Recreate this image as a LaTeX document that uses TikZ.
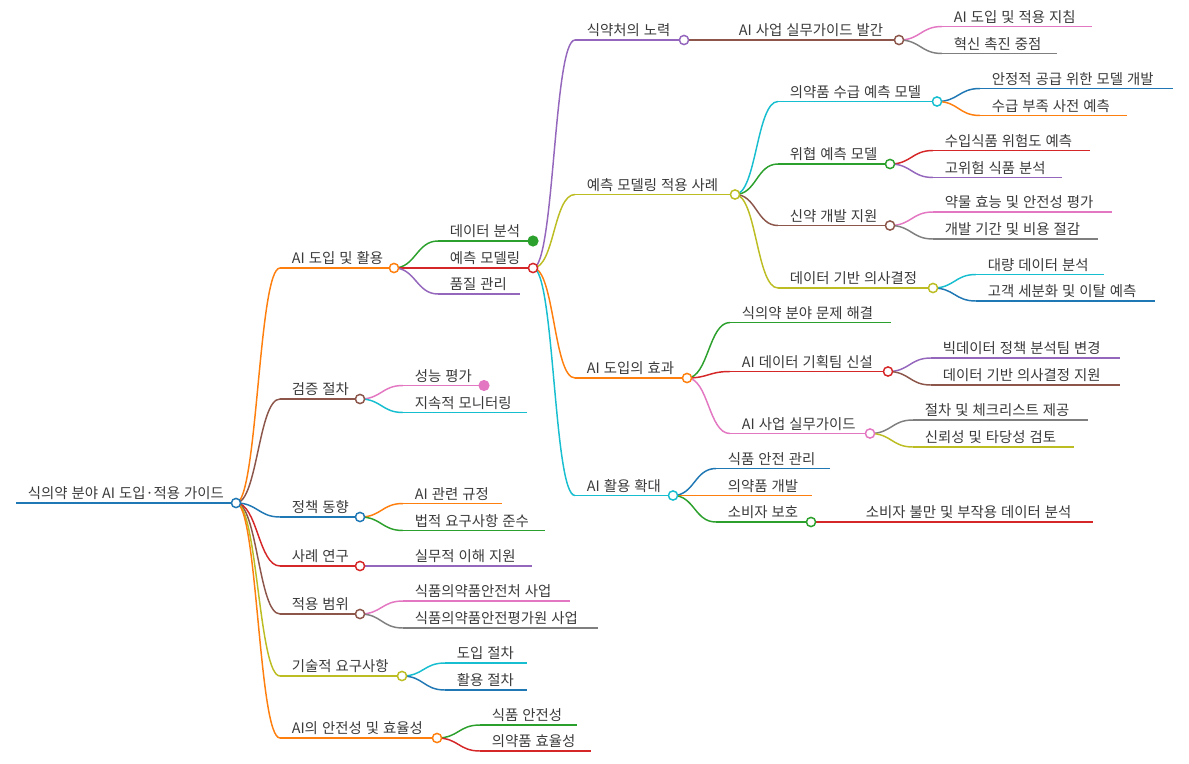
\documentclass[tikz,border=0pt]{standalone}
\usepackage{fontspec}
\setmainfont{Noto Sans CJK KR}[WordSpace=1.25]
\usetikzlibrary{calc}
\definecolor{cblue}{HTML}{1F77B4}
\definecolor{corange}{HTML}{FF7F0E}
\definecolor{cgreen}{HTML}{2CA02C}
\definecolor{cred}{HTML}{D62728}
\definecolor{cpurple}{HTML}{9467BD}
\definecolor{cbrown}{HTML}{8C564B}
\definecolor{cpink}{HTML}{E377C2}
\definecolor{cgray}{HTML}{7F7F7F}
\definecolor{colive}{HTML}{BCBD22}
\definecolor{ccyan}{HTML}{17BECF}
\definecolor{ctext}{RGB}{58,58,58}
\tikzset{
  mmline/.style={line width=1.1pt},
  mmtext/.style={anchor=base west, inner sep=0pt, text=ctext, font=\fontsize{10.8pt}{12pt}\selectfont},
  mmdot/.style={circle, inner sep=0pt, minimum size=6.9pt, line width=1.1pt, fill=white},
  mmfull/.style={circle, inner sep=0pt, minimum size=8.4pt, draw=none},
}
\newcommand{\mmitem}[6]{%
  \coordinate (#1s) at (#3,#5);
  \coordinate (#1e) at (#4,#5);
  \draw[mmline,#2] (#1s) -- (#1e);
  \node[mmtext] (#1) at ($(#1s)+(11.5,-4.5)$) {#6};
}
\newcommand{\mmedge}[3]{%
  \draw[mmline,#3] (#1e) .. controls +(21.5,0) and +(-21.5,0) .. (#2s);
}
\newcommand{\mmcirc}[2]{\node[mmdot,draw=#2] (#1c) at (#1e) {};}
\newcommand{\mmfilled}[2]{\node[mmfull,fill=#2] (#1c) at (#1e) {};}
\begin{document}
\begin{tikzpicture}[x=0.75pt,y=-0.75pt]
\fill[white] (0,0) rectangle (1189,764);
\useasboundingbox (0,0) rectangle (1189,764);
% root
\mmitem{r}{cblue}{16}{236}{503}{식의약 분야 AI 도입·적용 가이드}
% level 1
\mmitem{A}{corange}{280}{394}{268}{AI 도입 및 활용}
\mmitem{B}{cbrown}{280}{360}{399}{검증 절차}
\mmitem{C}{cblue}{280}{360}{517}{정책 동향}
\mmitem{D}{cred}{280}{360}{566}{사례 연구}
\mmitem{E}{cbrown}{280}{360}{614}{적용 범위}
\mmitem{F}{colive}{280}{402}{676}{기술적 요구사항}
\mmitem{G}{corange}{280}{437}{738}{AI의 안전성 및 효율성}
% A
\mmitem{A1}{cgreen}{438}{533}{241}{데이터 분석}
\mmitem{A2}{cred}{438}{533}{268}{예측 모델링}
\mmitem{A3}{cpurple}{438}{520}{294}{품질 관리}
% A2
\mmitem{P}{cpurple}{575}{684}{40}{식약처의 노력}
\mmitem{Q}{colive}{575}{735}{194.5}{예측 모델링 적용 사례}
\mmitem{R}{corange}{575}{687}{378}{AI 도입의 효과}
\mmitem{S}{ccyan}{575}{673}{495.5}{AI 활용 확대}
% P
\mmitem{P1}{cbrown}{727}{899}{40}{AI 사업 실무가이드 발간}
\mmitem{P11}{cpink}{942}{1092}{26.5}{AI 도입 및 적용 지침}
\mmitem{P12}{cgray}{942}{1057}{53.5}{혁신 촉진 중점}
% Q
\mmitem{Q1}{ccyan}{778}{937}{101.5}{의약품 수급 예측 모델}
\mmitem{Q2}{cgreen}{778}{890}{164}{위협 예측 모델}
\mmitem{Q3}{cbrown}{778}{890}{225.5}{신약 개발 지원}
\mmitem{Q4}{colive}{778}{933}{288}{데이터 기반 의사결정}
\mmitem{Q11}{cblue}{980}{1173}{88.5}{안정적 공급 위한 모델 개발}
\mmitem{Q12}{corange}{980}{1127}{115.5}{수급 부족 사전 예측}
\mmitem{Q21}{cred}{933}{1090}{150.5}{수입식품 위험도 예측}
\mmitem{Q22}{cpurple}{933}{1062}{177.5}{고위험 식품 분석}
\mmitem{Q31}{cpink}{933}{1112}{212}{약물 효능 및 안전성 평가}
\mmitem{Q32}{cgray}{933}{1098}{239}{개발 기간 및 비용 절감}
\mmitem{Q41}{ccyan}{976}{1104}{274.5}{대량 데이터 분석}
\mmitem{Q42}{cblue}{976}{1155}{301}{고객 세분화 및 이탈 예측}
% R
\mmitem{R1}{cgreen}{730}{891}{322.5}{식의약 분야 문제 해결}
\mmitem{R2}{cred}{730}{888}{371.5}{AI 데이터 기획팀 신설}
\mmitem{R3}{cpink}{730}{870}{433.5}{AI 사업 실무가이드}
\mmitem{R21}{cpurple}{931}{1120}{358}{빅데이터 정책 분석팀 변경}
\mmitem{R22}{cbrown}{931}{1120}{385}{데이터 기반 의사결정 지원}
\mmitem{R31}{cgray}{913}{1088}{420}{절차 및 체크리스트 제공}
\mmitem{R32}{colive}{913}{1074}{447}{신뢰성 및 타당성 검토}
% S
\mmitem{S1}{cblue}{716}{830}{468.5}{식품 안전 관리}
\mmitem{S2}{corange}{716}{812}{495.5}{의약품 개발}
\mmitem{S3}{cgreen}{716}{811}{522}{소비자 보호}
\mmitem{S31}{cred}{854}{1093}{522}{소비자 불만 및 부작용 데이터 분석}
% B..G children
\mmitem{B1}{cpink}{403}{484}{385.5}{성능 평가}
\mmitem{B2}{ccyan}{403}{527}{412.5}{지속적 모니터링}
\mmitem{C1}{corange}{403}{502}{503.5}{AI 관련 규정}
\mmitem{C2}{cgreen}{403}{545}{530.5}{법적 요구사항 준수}
\mmitem{D1}{cpurple}{403}{532}{566}{실무적 이해 지원}
\mmitem{E1}{cpink}{403}{570}{601}{식품의약품안전처 사업}
\mmitem{E2}{cgray}{403}{598}{628}{식품의약품안전평가원 사업}
\mmitem{F1}{ccyan}{445}{527}{663}{도입 절차}
\mmitem{F2}{cblue}{445}{527}{690}{활용 절차}
\mmitem{G1}{cgreen}{480}{577}{725}{식품 안전성}
\mmitem{G2}{cred}{480}{591}{751}{의약품 효율성}
% edges
\mmedge{r}{A}{corange}
\mmedge{r}{B}{cbrown}
\mmedge{r}{C}{cblue}
\mmedge{r}{D}{cred}
\mmedge{r}{E}{cbrown}
\mmedge{r}{F}{colive}
\mmedge{r}{G}{corange}
\mmedge{A}{A1}{cgreen}
\mmedge{A}{A2}{cred}
\mmedge{A}{A3}{cpurple}
\mmedge{A2}{P}{cpurple}
\mmedge{A2}{Q}{colive}
\mmedge{A2}{R}{corange}
\mmedge{A2}{S}{ccyan}
\mmedge{P}{P1}{cbrown}
\mmedge{P1}{P11}{cpink}
\mmedge{P1}{P12}{cgray}
\mmedge{Q}{Q1}{ccyan}
\mmedge{Q}{Q2}{cgreen}
\mmedge{Q}{Q3}{cbrown}
\mmedge{Q}{Q4}{colive}
\mmedge{Q1}{Q11}{cblue}
\mmedge{Q1}{Q12}{corange}
\mmedge{Q2}{Q21}{cred}
\mmedge{Q2}{Q22}{cpurple}
\mmedge{Q3}{Q31}{cpink}
\mmedge{Q3}{Q32}{cgray}
\mmedge{Q4}{Q41}{ccyan}
\mmedge{Q4}{Q42}{cblue}
\mmedge{R}{R1}{cgreen}
\mmedge{R}{R2}{cred}
\mmedge{R}{R3}{cpink}
\mmedge{R2}{R21}{cpurple}
\mmedge{R2}{R22}{cbrown}
\mmedge{R3}{R31}{cgray}
\mmedge{R3}{R32}{colive}
\mmedge{S}{S1}{cblue}
\mmedge{S}{S2}{corange}
\mmedge{S}{S3}{cgreen}
\mmedge{S3}{S31}{cred}
\mmedge{B}{B1}{cpink}
\mmedge{B}{B2}{ccyan}
\mmedge{C}{C1}{corange}
\mmedge{C}{C2}{cgreen}
\mmedge{D}{D1}{cpurple}
\mmedge{E}{E1}{cpink}
\mmedge{E}{E2}{cgray}
\mmedge{F}{F1}{ccyan}
\mmedge{F}{F2}{cblue}
\mmedge{G}{G1}{cgreen}
\mmedge{G}{G2}{cred}
% circles
\mmcirc{r}{cblue}
\mmcirc{A}{corange}
\mmcirc{B}{cbrown}
\mmcirc{C}{cblue}
\mmcirc{D}{cred}
\mmcirc{E}{cbrown}
\mmcirc{F}{colive}
\mmcirc{G}{corange}
\mmcirc{A2}{cred}
\mmcirc{P}{cpurple}
\mmcirc{P1}{cbrown}
\mmcirc{Q}{colive}
\mmcirc{Q1}{ccyan}
\mmcirc{Q2}{cgreen}
\mmcirc{Q3}{cbrown}
\mmcirc{Q4}{colive}
\mmcirc{R}{corange}
\mmcirc{R2}{cred}
\mmcirc{R3}{cpink}
\mmcirc{S}{ccyan}
\mmcirc{S3}{cgreen}
\mmfilled{A1}{cgreen}
\mmfilled{B1}{cpink}
\end{tikzpicture}
\end{document}
